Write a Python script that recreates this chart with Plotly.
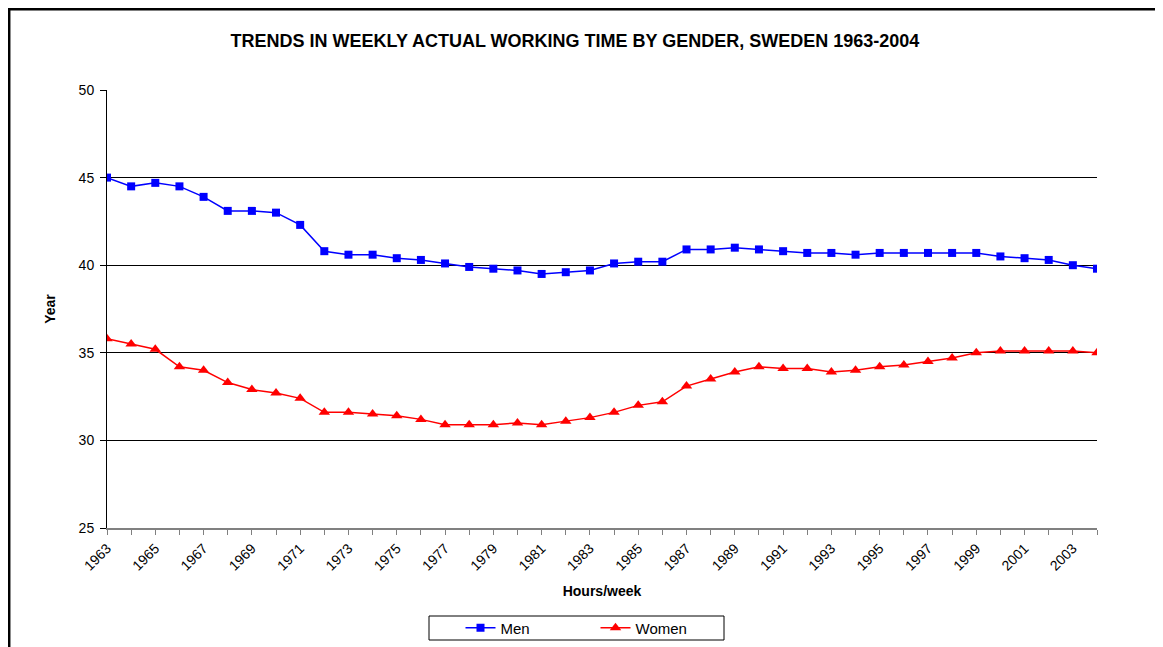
import plotly.graph_objects as go

years = list(range(1963, 2005))
men = [45.0, 44.5, 44.7, 44.5, 43.9, 43.1, 43.1, 43.0, 42.3, 40.8,
       40.6, 40.6, 40.4, 40.3, 40.1, 39.9, 39.8, 39.7, 39.5, 39.6,
       39.7, 40.1, 40.2, 40.2, 40.9, 40.9, 41.0, 40.9, 40.8, 40.7,
       40.7, 40.6, 40.7, 40.7, 40.7, 40.7, 40.7, 40.5, 40.4, 40.3,
       40.0, 39.8]
women = [35.8, 35.5, 35.2, 34.2, 34.0, 33.3, 32.9, 32.7, 32.4, 31.6,
         31.6, 31.5, 31.4, 31.2, 30.9, 30.9, 30.9, 31.0, 30.9, 31.1,
         31.3, 31.6, 32.0, 32.2, 33.1, 33.5, 33.9, 34.2, 34.1, 34.1,
         33.9, 34.0, 34.2, 34.3, 34.5, 34.7, 35.0, 35.1, 35.1, 35.1,
         35.1, 35.0]
tick_years = years[::2]

title = "TRENDS IN WEEKLY ACTUAL WORKING TIME BY GENDER, SWEDEN 1963-2004"
FONT = "Liberation Sans, Arial, sans-serif"

# The page body has an 8px margin, so figure coords = screen coords - 8.
# The figure is made a bit taller than the window so the legend's
# automatic margin padding does not shrink the plot area.
OFF = 8
W, H = 1163 - OFF, 670
L, R, T, B = 107 - OFF, 1097 - OFF, 90 - OFF, 528 - OFF

fig = go.Figure()
fig.add_trace(go.Scatter(x=years, y=men, name="Men", mode="lines+markers",
                         line=dict(color="#0000FF", width=1.5),
                         marker=dict(symbol="square", size=8, color="#0000FF")))
fig.add_trace(go.Scatter(x=years, y=women, name="Women", mode="lines+markers",
                         line=dict(color="#FF0000", width=1.5),
                         marker=dict(symbol="triangle-up", size=10, color="#FF0000")))


def px_x(p):
    return (p - OFF - L) / (R - L)


def px_y(p):
    return (B - (p - OFF)) / (B - T)


shapes = [
    # outer chart border (left and top)
    dict(type="line", xref="paper", yref="paper", x0=px_x(9.2), x1=px_x(9.2), y0=px_y(9), y1=px_y(675),
         line=dict(color="black", width=2.5)),
    dict(type="line", xref="paper", yref="paper", x0=px_x(8), x1=px_x(1175), y0=px_y(9.2), y1=px_y(9.2),
         line=dict(color="black", width=2.5)),
    # legend box
    dict(type="rect", xref="paper", yref="paper", x0=px_x(429), x1=px_x(724), y0=px_y(616), y1=px_y(640),
         line=dict(color="black", width=1), fillcolor="rgba(0,0,0,0)"),
]

fig.update_layout(
    width=W, height=H,
    margin=dict(l=L, r=W - R, t=T, b=H - B),
    paper_bgcolor="white", plot_bgcolor="white",
    font=dict(family=FONT, size=14, color="black"),
    title=dict(text="<b>" + title + "</b>", x=(575 - OFF) / W, xanchor="center",
               y=1 - (41 - OFF) / H, yanchor="middle", font=dict(size=18, family=FONT)),
    showlegend=True,
    legend=dict(orientation="h", x=px_x(460.5), xanchor="left", y=px_y(628), yanchor="middle",
                bgcolor="rgba(0,0,0,0)", borderwidth=0, font=dict(size=15),
                entrywidth=90, itemwidth=30),
    shapes=shapes,
    xaxis=dict(range=[1963, 2004], tickmode="array", tickvals=tick_years,
               ticktext=[str(y) for y in tick_years], tickangle=-45,
               ticks="outside", ticklen=5, tickcolor="#808080",
               minor=dict(dtick=1, tick0=1963, ticks="outside", ticklen=5, tickcolor="#808080"),
               showline=True, linecolor="#808080", linewidth=1.5, showgrid=False, zeroline=False,
               tickfont=dict(size=14),
               title=dict(text="<b>Hours/week</b>", font=dict(size=14), standoff=14)),
    yaxis=dict(range=[25, 50], dtick=5, ticks="outside", ticklen=6, tickcolor="black",
               showline=True, linecolor="black", linewidth=1, mirror=False,
               showgrid=True, gridcolor="black", gridwidth=1, zeroline=False,
               tickfont=dict(size=14), ticklabelstandoff=3,
               title=dict(text="<b>Year</b>", font=dict(size=14), standoff=19)),
)

fig.write_html("out.html")
